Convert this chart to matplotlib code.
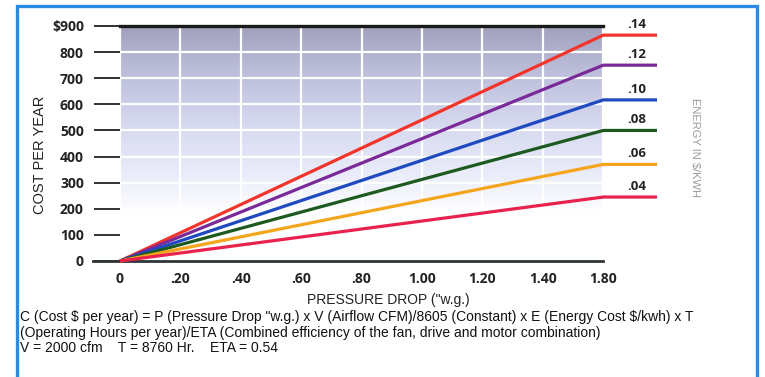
import numpy as np
import matplotlib.pyplot as plt
from matplotlib.colors import LinearSegmentedColormap
from matplotlib.patches import Rectangle

plt.rcParams['text.parse_math'] = False

# energy cost ($/kWh) per line and yearly cost reached at the last pressure tick
rates = [".14", ".12", ".10", ".08", ".06", ".04"]
cost_at_end = [865, 750, 617, 500, 370, 245]
line_colors = ["#f2342a", "#7a2a98", "#1f49c0", "#1d5a1f", "#f5a51c", "#e8224c"]

pressure = [0.0, 1.80, 2.0]   # ramp up to 1.80, then flat tail to the rate label
xtick_labels = ["0", ".20", ".40", ".60", ".80", "1.00", "1.20", "1.40", "1.80"]
ytick_values = [0, 100, 200, 300, 400, 500, 600, 700, 800, 900]
ytick_labels = ["0", "100", "200", "300", "400", "500", "600", "700", "800", "$900"]

formula = ('C (Cost $ per year) = P (Pressure Drop "w.g.) x V (Airflow CFM)/8605 (Constant) x E (Energy Cost $/kwh) x T\n'
           '(Operating Hours per year)/ETA (Combined efficiency of the fan, drive and motor combination)\n'
           'V = 2000 cfm    T = 8760 Hr.    ETA = 0.54')

W, H = 765, 377
fig = plt.figure(figsize=(W / 100, H / 100), dpi=100)
fig.patch.set_facecolor("white")

# axes: x=0 at px 120, x=2.0 at px 657; y=0 at px 261, y=900 at px 26
ax = fig.add_axes([120 / W, 1 - 261 / H, (657 - 120) / W, (261 - 26) / H])
ax.set_xlim(0, 2.0)
ax.set_ylim(0, 900)
for s in ax.spines.values():
    s.set_visible(False)
ax.set_facecolor("none")

# shaded background, darker toward the top
stops = [(0.0, (1, 1, 1)), (0.20, (1, 1, 1)), (0.36, (0.92, 0.93, 0.98)),
         (0.58, (0.84, 0.85, 0.94)), (0.80, (0.74, 0.75, 0.86)), (1.0, (0.63, 0.63, 0.74))]
cmap = LinearSegmentedColormap.from_list("bg", stops)
grad = np.linspace(0, 1, 256).reshape(-1, 1)
ax.imshow(grad, extent=[0, 1.8, 0, 900], origin="lower", aspect="auto", cmap=cmap, zorder=0)

xticks = np.linspace(0, 1.8, len(xtick_labels))
for x in xticks:
    ax.plot([x, x], [0, 900], color="white", lw=1.6, zorder=1)
for y in ytick_values:
    ax.plot([0, 1.8], [y, y], color="white", lw=1.6, zorder=1)

# frame lines
ax.plot([0, 1.8], [900, 900], color="#1a1a1a", lw=2.4, zorder=3, clip_on=False)
ax.plot([-0.1, 1.8], [0, 0], color="#2f3438", lw=2.0, zorder=3, clip_on=False)

for rate, c, col in zip(rates, cost_at_end, line_colors):
    ax.plot(pressure, [0, c, c], color=col, lw=2.3, zorder=4, clip_on=False,
            solid_capstyle="butt")
    ax.annotate(rate, (1.925, c), xytext=(0, 3), textcoords="offset points",
                ha="center", va="bottom", fontsize=9.5, fontweight="bold",
                family="Open Sans", color="#222222")

ax.set_xticks(xticks)
ax.set_xticklabels(xtick_labels, family="Open Sans", fontweight="bold", fontsize=10, color="#222222")
ax.tick_params(axis="x", length=0, pad=8)
ax.set_yticks(ytick_values)
ax.set_yticklabels(ytick_labels, family="Open Sans", fontweight="bold", fontsize=10, color="#222222")
ax.tick_params(axis="y", length=19, width=1.3, color="#222222", pad=7, direction="out")

ax.set_xlabel('PRESSURE DROP ("w.g.)', family="Liberation Sans", fontsize=10, labelpad=5, color="#222222")
fig.text(40 / W, 1 - 155 / H, "COST PER YEAR", rotation=90, ha="center", va="center",
         family="Liberation Sans", fontsize=10.5, color="#222222")
fig.text(695 / W, 1 - 147 / H, "ENERGY IN $/KWH", rotation=-90, ha="center", va="center",
         family="Liberation Sans", fontsize=8, color="#9a9a9a")

fig.text(20 / W, 1 - 310 / H, formula, ha="left", va="top", family="Liberation Sans",
         fontsize=10, linespacing=1.15, color="#111111")

# blue frame around the whole panel (open at the bottom)
fig.patches.append(Rectangle((17 / W, -0.1), (757 - 17) / W, 1.1 - 6 / H, transform=fig.transFigure,
                             fill=False, edgecolor="#2b8be2", lw=2.4))

fig.savefig("out.png", dpi=100)
